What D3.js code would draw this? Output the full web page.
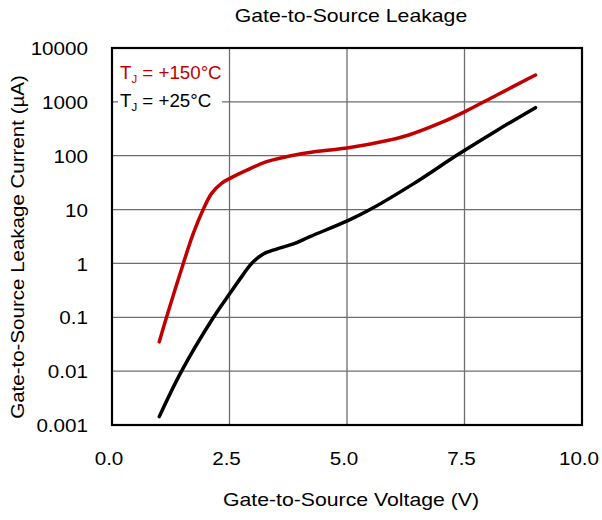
<!DOCTYPE html>
<html>
<head>
<meta charset="utf-8">
<script src="https://cdn.jsdelivr.net/npm/d3@7"></script>
<style>
  body { margin: 0; background: #fff; }
  svg text { font-family: "Liberation Sans", Arial, sans-serif; }
</style>
</head>
<body>
<svg id="chart" width="602" height="520"></svg>
<script>
// data (V, µA)
var hotV = [1.006, 1.16, 1.517, 1.73, 1.94, 2.12, 2.33, 2.51, 2.87, 3.29, 4.0, 4.64, 5.0, 5.91, 6.3, 7.0, 7.51, 8.18, 9.01];
var hotI = [0.035, 0.1, 1.0, 3.6, 10, 20, 30.7, 38, 54, 77.5, 108, 128, 139, 196, 240, 410, 660, 1330, 3155];
var coldV = [1.006, 1.48, 2.16, 2.51, 2.79, 2.97, 3.22, 3.5, 3.86, 4.21, 5.03, 5.49, 6.41, 7.36, 8.18, 9.01];
var coldI = [0.00143, 0.01, 0.1, 0.279, 0.62, 1.0, 1.5, 1.85, 2.3, 3.14, 6.3, 10, 30, 105, 292, 781];
var xTicks = [0, 2.5, 5, 7.5, 10];
var yTicks = [0.001, 0.01, 0.1, 1, 10, 100, 1000, 10000];
var yTickLabels = ['0.001', '0.01', '0.1', '1', '10', '100', '1000', '10000'];

var svg = d3.select('#chart');
// plot box (note: "top" is taken by window.top)
var pl = 112, pr = 582, pt = 48, pb = 425;
// the reference text is drawn a bit wide
var sx = 1.18;

var x = d3.scaleLinear().domain([0, 10]).range([pl, pr]);
var y = d3.scaleLog().domain([0.001, 10000]).range([pb, pt]);

// grid
svg.append('g')
	.selectAll('line')
	.data(xTicks.slice(1, -1))
	.enter().append('line')
	.attr('x1', function(d){ return x(d); })
	.attr('x2', function(d){ return x(d); })
	.attr('y1', pt).attr('y2', pb)
	.attr('stroke', '#6e6e6e').attr('stroke-width', 1.3);

svg.append('g')
	.selectAll('line')
	.data(yTicks.slice(1, -1))
	.enter().append('line')
	.attr('x1', pl).attr('x2', pr)
	.attr('y1', function(d){ return y(d); })
	.attr('y2', function(d){ return y(d); })
	.attr('stroke', '#6e6e6e').attr('stroke-width', 1.3);

// axes (labels only)
var xAxis = svg.append('g')
	.attr('transform', 'translate(-3.5,' + pb + ')')
	.call(d3.axisBottom(x).tickValues(xTicks).tickFormat(d3.format('.1f')).tickSize(0).tickPadding(28));
var yAxis = svg.append('g')
	.attr('transform', 'translate(' + pl + ',1)')
	.call(d3.axisLeft(y).tickValues(yTicks).tickFormat(function(d, i){ return yTickLabels[i]; }).tickSize(0).tickPadding(24));
[xAxis, yAxis].forEach(function(a){
	a.select('.domain').remove();
	a.selectAll('text')
		.attr('font-family', '"Liberation Sans", Arial, sans-serif')
		.attr('font-size', 17.5).attr('fill', '#000')
		.attr('transform', 'scale(' + sx + ',1)');
});
yAxis.selectAll('text').attr('x', -24 / sx);

// legend
svg.append('rect')
	.attr('x', 118).attr('y', 90).attr('width', 104).attr('height', 22)
	.attr('fill', '#fff');

var legend = [
	{ label: ' = +150°C', color: '#c00000', yy: 79 },
	{ label: ' = +25°C', color: '#000', yy: 107 }
];
legend.forEach(function(l){
	var t = svg.append('text')
		.attr('transform', 'translate(120,' + l.yy + ') scale(1.04,1)')
		.attr('font-size', 18).attr('fill', l.color);
	t.append('tspan').text('T');
	t.append('tspan').attr('font-size', 11).attr('dy', 4).text('J');
	t.append('tspan').attr('dy', -4).text(l.label);
});

// curves
var line = d3.line()
	.x(function(d){ return x(d[0]); })
	.y(function(d){ return y(d[1]); })
	.curve(d3.curveCatmullRom.alpha(0.5));

svg.append('path')
	.datum(d3.zip(coldV, coldI))
	.attr('d', line)
	.attr('fill', 'none').attr('stroke', '#000')
	.attr('stroke-width', 3.5).attr('stroke-linecap', 'round');

svg.append('path')
	.datum(d3.zip(hotV, hotI))
	.attr('d', line)
	.attr('fill', 'none').attr('stroke', '#c00000')
	.attr('stroke-width', 3.5).attr('stroke-linecap', 'round');

// frame
svg.append('rect')
	.attr('x', pl).attr('y', pt)
	.attr('width', pr - pl).attr('height', pb - pt)
	.attr('fill', 'none').attr('stroke', '#000').attr('stroke-width', 2.2);

// titles
svg.append('text')
	.attr('transform', 'translate(351,22) scale(' + sx + ',1)')
	.attr('text-anchor', 'middle').attr('font-size', 18)
	.text('Gate-to-Source Leakage');

svg.append('text')
	.attr('transform', 'translate(351,506) scale(' + sx + ',1)')
	.attr('text-anchor', 'middle').attr('font-size', 18)
	.text('Gate-to-Source Voltage (V)');

svg.append('text')
	.attr('transform', 'translate(24,247) rotate(-90) scale(1.14,1)')
	.attr('text-anchor', 'middle').attr('font-size', 18)
	.text('Gate-to-Source Leakage Current (µA)');
</script>
</body>
</html>
